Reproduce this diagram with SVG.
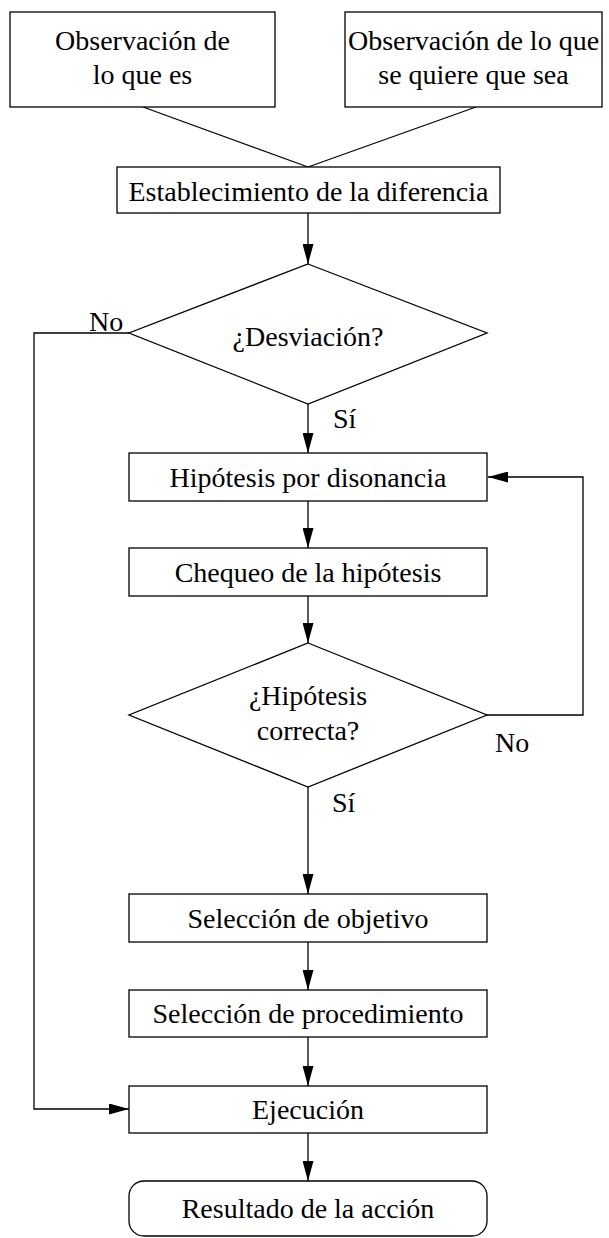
<svg xmlns="http://www.w3.org/2000/svg" width="609" height="1238" viewBox="0 0 609 1238">
<style>
.box{fill:#fff;stroke:#000;stroke-width:1.3}
.ln{fill:none;stroke:#000;stroke-width:1.3}
.t{font-family:"Liberation Serif","Times New Roman",serif;font-size:28px;fill:#000;text-anchor:middle}
.lb{font-family:"Liberation Serif","Times New Roman",serif;font-size:28px;fill:#000}
</style>
<defs>
<marker id="ah" markerUnits="userSpaceOnUse" markerWidth="20" markerHeight="11" refX="20" refY="5.5" orient="auto">
<path d="M0,0 L20,5.5 L0,11 z" fill="#000"/>
</marker>
</defs>
<rect width="609" height="1238" fill="#fff"/>
<g id="connectors">
<path class="ln" d="M143,107 L308,167"/>
<path class="ln" d="M476,107 L308,167"/>
<path class="ln" d="M308,213 L308,264" marker-end="url(#ah)"/>
<path class="ln" d="M308,404 L308,453" marker-end="url(#ah)"/>
<path class="ln" d="M308,501 L308,548" marker-end="url(#ah)"/>
<path class="ln" d="M308,596 L308,643" marker-end="url(#ah)"/>
<path class="ln" d="M308,787 L308,894" marker-end="url(#ah)"/>
<path class="ln" d="M308,942 L308,990" marker-end="url(#ah)"/>
<path class="ln" d="M308,1037 L308,1086" marker-end="url(#ah)"/>
<path class="ln" d="M308,1133 L308,1181" marker-end="url(#ah)"/>
<path class="ln" d="M129,333 L34,333 L34,1109 L129,1109" marker-end="url(#ah)"/>
<path class="ln" d="M487,715 L583,715 L583,477 L488,477" marker-end="url(#ah)"/>
<text class="lb" x="89" y="331">No</text>
<text class="lb" x="333" y="428">Sí</text>
<text class="lb" x="495" y="752">No</text>
<text class="lb" x="332" y="812">Sí</text>
</g>
<g id="obs1">
<rect class="box" x="10" y="12" width="265" height="95"/>
<text class="t" x="142.5" y="50">Observación de</text>
<text class="t" x="142.5" y="84">lo que es</text>
</g>
<g id="obs2">
<rect class="box" x="345" y="12" width="257" height="95"/>
<text class="t" x="473.5" y="50">Observación de lo que</text>
<text class="t" x="473.5" y="84">se quiere que sea</text>
</g>
<g id="estab">
<rect class="box" x="117" y="167" width="383" height="46"/>
<text class="t" x="308.5" y="201">Establecimiento de la diferencia</text>
</g>
<g id="desv">
<polygon class="box" points="308,264 487,333 308,404 129,333"/>
<text class="t" x="308" y="346">¿Desviación?</text>
</g>
<g id="hip">
<rect class="box" x="129" y="453" width="358" height="48"/>
<text class="t" x="308" y="487">Hipótesis por disonancia</text>
</g>
<g id="cheq">
<rect class="box" x="129" y="548" width="358" height="48"/>
<text class="t" x="308" y="582">Chequeo de la hipótesis</text>
</g>
<g id="hipcorr">
<polygon class="box" points="308,643 487,715 308,787 129,715"/>
<text class="t" x="308" y="705">¿Hipótesis</text>
<text class="t" x="308" y="740">correcta?</text>
</g>
<g id="selobj">
<rect class="box" x="129" y="894" width="358" height="48"/>
<text class="t" x="308" y="928">Selección de objetivo</text>
</g>
<g id="selproc">
<rect class="box" x="129" y="990" width="358" height="47"/>
<text class="t" x="308" y="1023">Selección de procedimiento</text>
</g>
<g id="ejec">
<rect class="box" x="129" y="1086" width="358" height="47"/>
<text class="t" x="308" y="1119">Ejecución</text>
</g>
<g id="result">
<rect class="box" x="129" y="1181" width="358" height="55" rx="15" ry="15"/>
<text class="t" x="308" y="1218">Resultado de la acción</text>
</g>
</svg>
